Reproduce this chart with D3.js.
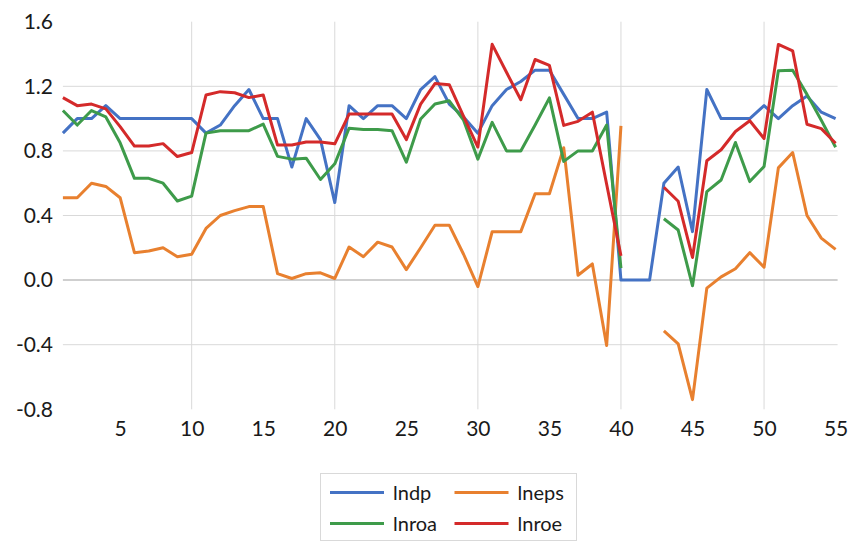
<!DOCTYPE html>
<html>
<head>
<meta charset="utf-8">
<script src="https://cdn.jsdelivr.net/npm/d3@7/dist/d3.min.js"></script>
<style>
  html, body { margin: 0; padding: 0; background: #fff; }
  svg { display: block; }
  text { font-family: Lato, "Open Sans", sans-serif; fill: #1a1a1a; }
</style>
</head>
<body>
<svg id="chart" width="853" height="544"></svg>
<script>
// Observation index 1..55
const periods = d3.range(1, 56);

const lndp = [0.91, 1.00, 1.00, 1.08, 1.00, 1.00, 1.00, 1.00, 1.00, 1.00,
  0.91, 0.96, 1.08, 1.18, 1.00, 1.00, 0.70, 1.00, 0.87, 0.48,
  1.08, 1.00, 1.08, 1.08, 1.00, 1.18, 1.26, 1.09, 1.01, 0.91,
  1.08, 1.18, 1.23, 1.30, 1.30, 1.15, 1.00, 1.00, 1.04, 0.00,
  0.00, 0.00, 0.60, 0.70, 0.30, 1.18, 1.00, 1.00, 1.00, 1.08,
  1.00, 1.08, 1.14, 1.04, 1.00];

const lneps = [0.51, 0.51, 0.60, 0.58, 0.51, 0.17, 0.18, 0.20, 0.145, 0.16,
  0.32, 0.40, 0.43, 0.455, 0.455, 0.04, 0.01, 0.04, 0.045, 0.01,
  0.205, 0.145, 0.235, 0.205, 0.065, 0.20, 0.34, 0.34, 0.16, -0.04,
  0.30, 0.30, 0.30, 0.535, 0.535, 0.82, 0.03, 0.10, -0.405, 0.955,
  null, null, -0.315, -0.395, -0.74, -0.05, 0.02, 0.07, 0.17, 0.08,
  0.695, 0.79, 0.40, 0.26, 0.19];

const lnroa = [1.05, 0.96, 1.05, 1.01, 0.85, 0.63, 0.63, 0.60, 0.49, 0.52,
  0.91, 0.925, 0.925, 0.925, 0.966, 0.766, 0.749, 0.755, 0.623, 0.72,
  0.94, 0.933, 0.933, 0.925, 0.73, 0.997, 1.09, 1.11, 0.99, 0.749,
  0.977, 0.80, 0.80, 0.96, 1.128, 0.735, 0.80, 0.80, 0.96, 0.074,
  null, null, 0.38, 0.31, -0.035, 0.548, 0.62, 0.852, 0.61, 0.703,
  1.297, 1.30, 1.15, 0.99, 0.823];

const lnroe = [1.13, 1.08, 1.09, 1.06, 0.95, 0.83, 0.83, 0.845, 0.765, 0.79,
  1.146, 1.167, 1.16, 1.13, 1.146, 0.836, 0.836, 0.855, 0.855, 0.844,
  1.028, 1.028, 1.028, 1.028, 0.87, 1.09, 1.217, 1.21, 1.014, 0.824,
  1.46, 1.287, 1.117, 1.366, 1.33, 0.958, 0.983, 1.04, 0.594, 0.15,
  null, null, 0.575, 0.488, 0.14, 0.739, 0.807, 0.92, 0.987, 0.877,
  1.459, 1.42, 0.965, 0.938, 0.847];

const seriesNames = ["lndp", "lneps", "lnroa", "lnroe"];
const seriesColors = ["#4472C4", "#E8802F", "#3E9B4A", "#D42A2A"];

const xTickValues = [5, 10, 15, 20, 25, 30, 35, 40, 45, 50, 55];
const xGridValues = [10, 20, 30, 40, 50];
const yTickValues = [1.6, 1.2, 0.8, 0.4, 0.0, -0.4, -0.8];
const yTickLabels = ["1.6", "1.2", "0.8", "0.4", "0.0", "-0.4", "-0.8"];
const yGridValues = [1.2, 0.8, 0.4, -0.4];

const series = [lndp, lneps, lnroa, lnroe].map((vals, k) => ({
  name: seriesNames[k],
  color: seriesColors[k],
  points: periods.map((p, i) => ({ x: p, y: vals[i] }))
}));

const svg = d3.select("#chart");

const x = d3.scaleLinear().domain([1, 55]).range([62.9, 835.6]);
const y = d3.scaleLinear().domain([-0.8, 1.6]).range([409.3, 21.7]);

// gridlines
const grid = svg.append("g");
grid.selectAll("line.vg").data(xGridValues).join("line")
  .attr("x1", d => x(d)).attr("x2", d => x(d))
  .attr("y1", y(1.6)).attr("y2", y(-0.8))
  .attr("stroke", "#d9d9d9").attr("stroke-width", 1);
grid.selectAll("line.hg").data(yGridValues).join("line")
  .attr("x1", x(1)).attr("x2", x(55) + 2)
  .attr("y1", d => y(d)).attr("y2", d => y(d))
  .attr("stroke", "#d9d9d9").attr("stroke-width", 1);
// zero line
grid.append("line")
  .attr("x1", x(1)).attr("x2", x(55) + 2)
  .attr("y1", y(0)).attr("y2", y(0))
  .attr("stroke", "#bfbfbf").attr("stroke-width", 1.5);

// y axis labels
const yAxis = d3.axisLeft(y).tickValues(yTickValues)
  .tickFormat((d, i) => yTickLabels[i]).tickSize(0).tickPadding(0);
svg.append("g").attr("transform", "translate(53,0)").call(yAxis)
  .call(g => g.select(".domain").remove())
  .call(g => g.selectAll("text").attr("font-size", 21)
    .attr("font-family", "Lato, 'Open Sans', sans-serif").attr("fill", "#1a1a1a"));

// x axis labels
const xAxis = d3.axisBottom(x).tickValues(xTickValues)
  .tickFormat(d3.format("d")).tickSize(0).tickPadding(0);
svg.append("g").attr("transform", "translate(0,421)").call(xAxis)
  .call(g => g.select(".domain").remove())
  .call(g => g.selectAll("text").attr("font-size", 21)
    .attr("font-family", "Lato, 'Open Sans', sans-serif").attr("fill", "#1a1a1a"));

// series lines
const line = d3.line()
  .defined(d => d.y !== null)
  .x(d => x(d.x)).y(d => y(d.y));

svg.append("g").selectAll("path").data(series).join("path")
  .attr("d", d => line(d.points))
  .attr("fill", "none")
  .attr("stroke", d => d.color)
  .attr("stroke-width", 3)
  .attr("stroke-linejoin", "round");

// legend
const legend = svg.append("g");
legend.append("rect")
  .attr("x", 320.5).attr("y", 473.5).attr("width", 256).attr("height", 67)
  .attr("fill", "#fff").attr("stroke", "#d9d9d9").attr("stroke-width", 1);
const cols = [330, 454.5];
const rows = [492.5, 523.5];
const items = legend.selectAll("g.item").data(series).join("g")
  .attr("transform", (d, i) => `translate(${cols[i % 2]},${rows[Math.floor(i / 2)]})`);
items.append("line")
  .attr("x1", 0).attr("x2", 54).attr("y1", 0).attr("y2", 0)
  .attr("stroke", d => d.color).attr("stroke-width", 3);
items.append("text")
  .attr("x", 63).attr("y", 0).attr("dy", "0.35em")
  .attr("font-size", 20)
  .text(d => d.name);
</script>
</body>
</html>
